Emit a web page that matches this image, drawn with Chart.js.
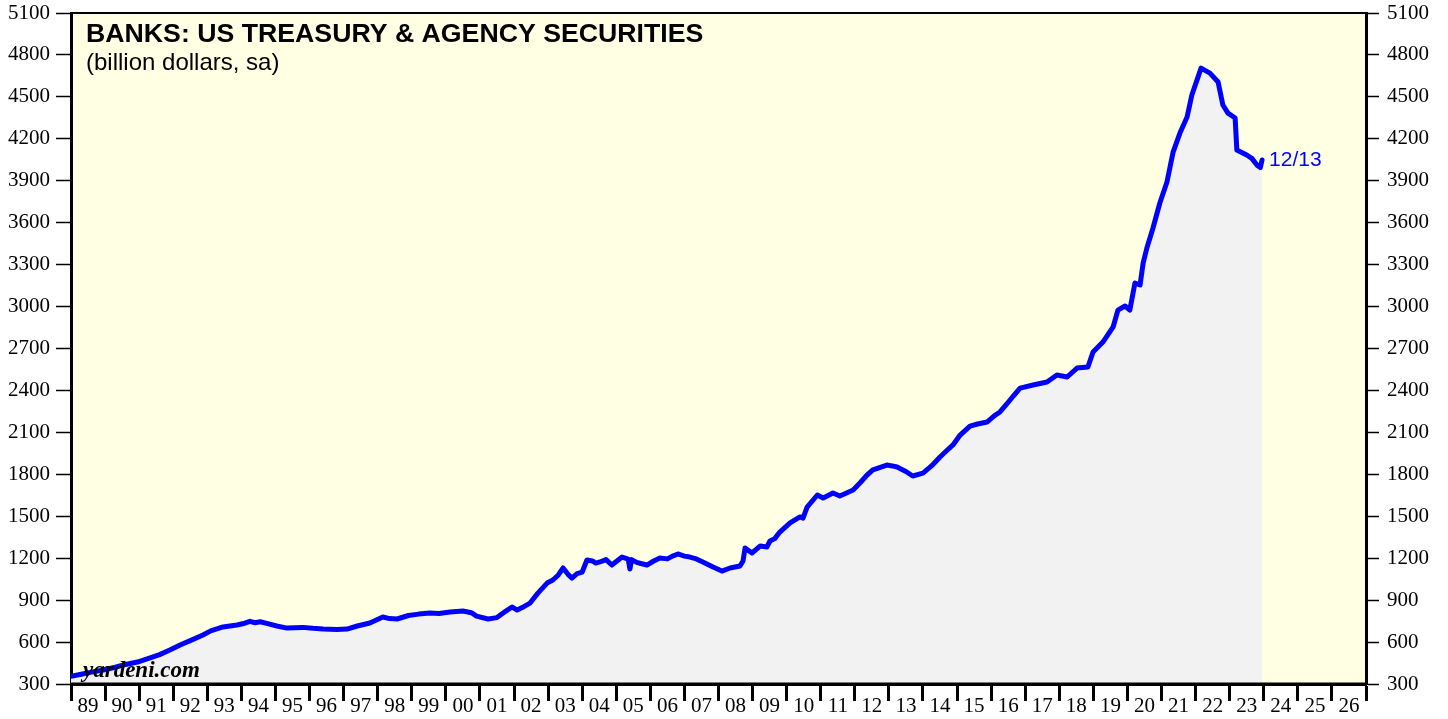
<!DOCTYPE html>
<html>
<head>
<meta charset="utf-8">
<title>Banks: US Treasury & Agency Securities</title>
<script src="https://cdn.jsdelivr.net/npm/chart.js@4.4.1/dist/chart.umd.min.js"></script>
<style>
    html, body { margin: 0; padding: 0; background: #ffffff; }
    #wrap { width: 1448px; height: 719px; }
</style>
</head>
<body>
<div id="wrap"><canvas id="myChart" width="1448" height="719"></canvas></div>
<script>
/* data (decimal years, billion dollars) */
const dates = [
    1989.0, 1989.3, 1989.6, 1989.95, 1990.3, 1990.6, 1990.95, 1991.3, 1991.6, 1991.9,
    1992.2, 1992.5, 1992.87, 1993.1, 1993.46, 1993.87, 1994.1, 1994.25, 1994.4, 1994.55, 1994.8, 1995.04,
    1995.34, 1995.8, 1996.1, 1996.4, 1996.8, 1997.1, 1997.4, 1997.77, 1998.15, 1998.35, 1998.57,
    1998.9, 1999.2, 1999.53, 1999.8, 2000.12, 2000.5, 2000.75, 2000.9, 2001.24, 2001.5,
    2001.75, 2001.94, 2002.09, 2002.3, 2002.47, 2002.7, 2002.97, 2003.14, 2003.3, 2003.44,
    2003.6, 2003.7, 2003.85, 2004.0, 2004.14, 2004.3, 2004.4, 2004.52, 2004.7, 2004.87, 2005.17,
    2005.35, 2005.4, 2005.45, 2005.6, 2005.75, 2005.9, 2006.1, 2006.28, 2006.5, 2006.65, 2006.81, 2007.0,
    2007.16, 2007.35, 2007.54, 2007.84, 2008.1, 2008.34, 2008.63, 2008.72, 2008.78, 2008.98,
    2009.22, 2009.42, 2009.51, 2009.65, 2009.8, 2010.1, 2010.39, 2010.48, 2010.6, 2010.9, 2011.07,
    2011.36, 2011.56, 2011.95, 2012.15, 2012.36, 2012.53, 2012.94, 2013.1, 2013.24, 2013.5,
    2013.7, 2014.0, 2014.25, 2014.5, 2014.7, 2014.88, 2015.09, 2015.38, 2015.6, 2015.88,
    2016.1, 2016.26, 2016.46, 2016.65, 2016.85, 2017.23, 2017.64, 2017.93, 2018.23, 2018.52,
    2018.84, 2018.99, 2019.28, 2019.58, 2019.72, 2019.93, 2020.07, 2020.22, 2020.37, 2020.46,
    2020.57, 2020.75, 2020.95, 2021.16, 2021.34, 2021.54, 2021.75, 2021.89, 2022.04, 2022.16,
    2022.42, 2022.66, 2022.8, 2022.95, 2023.16, 2023.21, 2023.5, 2023.65, 2023.8, 2023.9, 2023.95
];
const securities = [
    355, 370, 385, 400, 420, 440, 457, 485, 510, 543,
    579, 610, 650, 680, 708, 722, 735, 748, 738, 745, 730, 715,
    700, 705, 698, 693, 690, 693, 715, 736, 779, 768, 765,
    790, 800, 808, 805, 815, 822, 810, 786, 765, 775,
    820, 851, 829, 855, 879, 950, 1022, 1044, 1080, 1130,
    1080, 1058, 1090, 1101, 1187, 1180, 1165, 1173, 1190, 1151, 1208,
    1194, 1122, 1190, 1170, 1160, 1151, 1180, 1201, 1195, 1215, 1230, 1215,
    1208, 1195, 1173, 1137, 1108, 1130, 1144, 1180, 1273, 1237,
    1287, 1280, 1323, 1340, 1387, 1452, 1495, 1487, 1566, 1652, 1630,
    1666, 1645, 1688, 1738, 1795, 1831, 1866, 1860, 1852, 1820,
    1788, 1809, 1860, 1924, 1970, 2010, 2081, 2145, 2160, 2174,
    2220, 2246, 2303, 2360, 2417, 2439, 2460, 2510, 2496, 2560,
    2568, 2675, 2746, 2854, 2975, 3004, 2975, 3168, 3154, 3311,
    3419, 3562, 3741, 3891, 4105, 4241, 4356, 4513, 4620, 4706,
    4670, 4606, 4442, 4384, 4349, 4120, 4084, 4060, 4012, 3995, 4048
];
const yearLabels = [
    '89', '90', '91', '92', '93', '94', '95', '96', '97', '98', '99', '00', '01',
    '02', '03', '04', '05', '06', '07', '08', '09', '10', '11', '12', '13', '14',
    '15', '16', '17', '18', '19', '20', '21', '22', '23', '24', '25', '26'
];
const firstYear = 1989;
const lastLabel = '12/13';
const titleText = 'BANKS: US TREASURY & AGENCY SECURITIES';
const subtitleText = '(billion dollars, sa)';

const points = dates.map((d, i) => ({ x: d, y: securities[i] }));

/* background, frame and texts */
const decorPlugin = {
    id: 'decor',
    beforeDraw(chart) {
        const { ctx, chartArea } = chart;
        ctx.save();
        ctx.fillStyle = '#ffffe3';
        ctx.fillRect(chartArea.left, chartArea.top, chartArea.right - chartArea.left, chartArea.bottom - chartArea.top);
        ctx.restore();
    },
    afterDraw(chart) {
        const { ctx, chartArea, scales } = chart;
        ctx.save();

        // frame lines on top of the fill
        ctx.strokeStyle = '#000';
        ctx.lineWidth = 2;
        ctx.beginPath();
        ctx.moveTo(chartArea.left, chartArea.top);
        ctx.lineTo(chartArea.right, chartArea.top);
        ctx.stroke();
        ctx.lineWidth = 3;
        ctx.beginPath();
        ctx.moveTo(chartArea.left, chartArea.bottom);
        ctx.lineTo(chartArea.right, chartArea.bottom);
        ctx.stroke();

        // year labels, centred in each year
        ctx.fillStyle = '#000';
        ctx.font = '21px "Liberation Serif", "Times New Roman", serif';
        ctx.textAlign = 'center';
        ctx.textBaseline = 'middle';
        yearLabels.forEach((lab, i) => {
            const x = scales.x.getPixelForValue(firstYear + i + 0.5);
            ctx.fillText(lab, x, 706);
        });

        // title
        ctx.textAlign = 'left';
        ctx.textBaseline = 'alphabetic';
        ctx.font = 'bold 26.7px "Liberation Sans", Arial, sans-serif';
        ctx.fillText(titleText, 86, 42);
        ctx.font = '24px "Liberation Sans", Arial, sans-serif';
        ctx.fillText(subtitleText, 86, 70);

        // watermark
        ctx.font = 'italic bold 23px "Liberation Serif", "Times New Roman", serif';
        ctx.fillText('yardeni.com', 83, 677);

        // last date label
        const lx = scales.x.getPixelForValue(dates[dates.length - 1]);
        const ly = scales.y.getPixelForValue(securities[securities.length - 1]);
        ctx.fillStyle = '#0000ff';
        ctx.font = '21px "Liberation Sans", Arial, sans-serif';
        ctx.textBaseline = 'middle';
        ctx.fillText(lastLabel, lx + 7, ly);

        ctx.restore();
    }
};

const serifTicks = { family: '"Liberation Serif", "Times New Roman", serif', size: 21 };
const plainNumber = (v) => String(v);
const noPadding = (scale) => { scale.paddingTop = 0; scale.paddingBottom = 0; };

const ctx = document.getElementById('myChart').getContext('2d');
const myChart = new Chart(ctx, {
    type: 'line',
    data: {
        datasets: [{
            label: 'Treasury & agency securities',
            data: points,
            borderColor: '#0000ff',
            borderWidth: 5,
            backgroundColor: '#f2f2f2',
            fill: 'start',
            pointRadius: 0,
            tension: 0,
            borderJoinStyle: 'round',
            borderCapStyle: 'round',
            yAxisID: 'y'
        }]
    },
    options: {
        responsive: false,
        animation: false,
        layout: { padding: { top: 13, left: 0, right: 0, bottom: 0 } },
        plugins: {
            legend: { display: false },
            tooltip: { enabled: false }
        },
        scales: {
            x: {
                type: 'linear',
                position: 'bottom',
                min: 1989,
                max: 2027,
                ticks: {
                    stepSize: 1,
                    autoSkip: false,
                    callback: () => ''
                },
                grid: {
                    drawOnChartArea: false,
                    color: '#000',
                    tickLength: 17,
                    tickWidth: 3
                },
                border: { color: '#000', width: 3 },
                afterFit(scale) { scale.height = 35; scale.paddingLeft = 0; scale.paddingRight = 0; }
            },
            y: {
                type: 'linear',
                position: 'left',
                min: 300,
                max: 5100,
                ticks: {
                    stepSize: 300,
                    color: '#000',
                    padding: 6,
                    font: serifTicks,
                    callback: plainNumber
                },
                grid: {
                    drawOnChartArea: false,
                    color: '#000',
                    tickLength: 15,
                    tickWidth: 1.5
                },
                border: { color: '#000', width: 3 },
                afterFit(scale) { scale.width = 71; noPadding(scale); }
            },
            y2: {
                type: 'linear',
                position: 'right',
                min: 300,
                max: 5100,
                ticks: {
                    stepSize: 300,
                    color: '#000',
                    padding: 8,
                    font: serifTicks,
                    callback: plainNumber
                },
                grid: {
                    drawOnChartArea: false,
                    color: '#000',
                    tickLength: 13,
                    tickWidth: 1.5
                },
                border: { color: '#000', width: 3 },
                afterFit(scale) { scale.width = 82; noPadding(scale); }
            }
        }
    },
    plugins: [decorPlugin]
});
</script>
</body>
</html>
